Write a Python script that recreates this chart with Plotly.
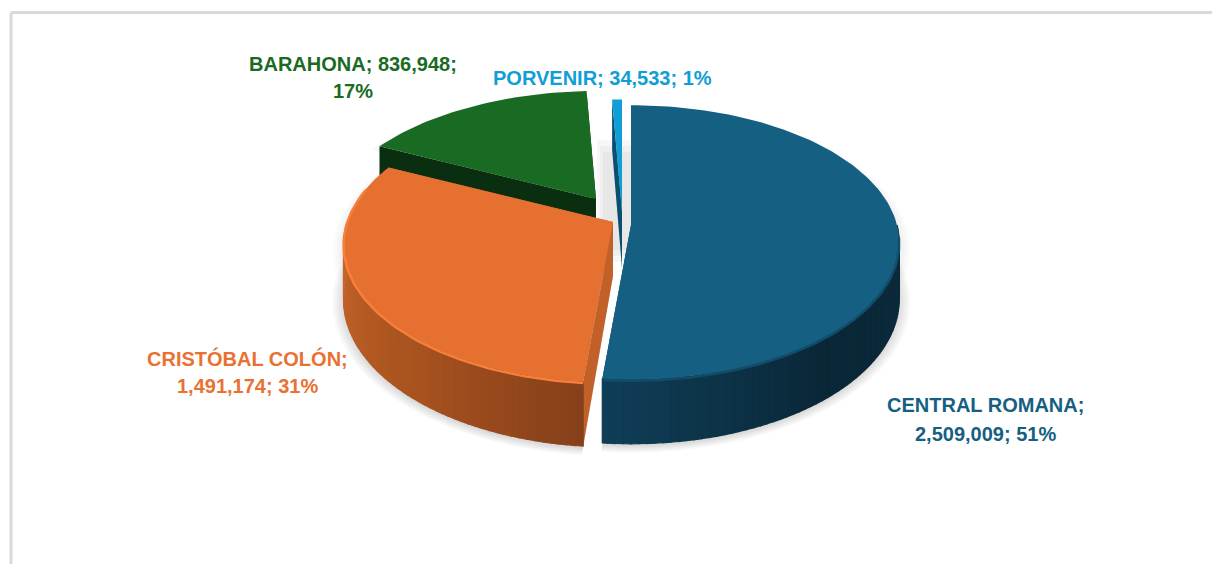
import math
import plotly.graph_objects as go

# ---- data ----
categories = ["CENTRAL ROMANA", "CRISTÓBAL COLÓN", "BARAHONA", "PORVENIR"]
values = [2509009, 1491174, 836948, 34533]
percents = ["51%", "31%", "17%", "1%"]

# ---- style ----
top_colors = ["#156082", "#E6702F", "#196B24", "#0F9ED5"]
text_colors = ["#156082", "#E97132", "#196B24", "#0F9ED5"]
face_colors = ["#0C3348", "#C2602A", "#0A2E10", "#0A4F70"]
wall_stops = [
    [(100, "#0B2A3B"), (140, "#0A2737"), (185, "#0F3E57")],
    [(185, "#85401A"), (220, "#A8521F"), (265, "#C6652B")],
    [(295, "#0A2E10"), (360, "#0A2E10")],
    [(357, "#0A4F70"), (360, "#0A4F70")],
]
rim_colors = ["#114D69", "#F77F3B", None, None]
apexes = [(631, 225), (613, 222), (596, 199), (622, 212)]
scales = [1.0, 1.0, 1.0, 0.94]
perspective = [0.127, 0.16, 0.25, 0.127]
depths = [56, 54, 56, 56]
draw_order = [3, 2, 1, 0]
RX, RY = 266, 135
FONT = "Liberation Sans"
FS = 20
label_lines = [
    [(985, 405, f"{categories[0]};"), (985, 434, f"{values[0]:,}; {percents[0]}")],
    [(247, 358, f"{categories[1]};"), (247, 386, f"{values[1]:,}; {percents[1]}")],
    [(353, 64, f"{categories[2]}; {values[2]:,};"), (353, 91, percents[2])],
    [(602, 78, f"{categories[3]}; {values[3]:,}; {percents[3]}")],
]

total = sum(values)
edges = [0.0]
for v in values:
    edges.append(edges[-1] + v / total * 360)


def proj(i, deg, depth=0.0, grow=1.0):
    ax, ay = apexes[i]
    t = math.radians(deg)
    s = scales[i] * grow / (1 + perspective[i] * math.cos(t))
    return ax + RX * math.sin(t) * s, ay - RY * math.cos(t) * s + depth * s / scales[i] / grow


def arc(i, a, b, depth=0.0, grow=1.0):
    n = max(2, int(abs(b - a) / 1.5) + 1)
    pts = [proj(i, a + (b - a) * k / (n - 1), depth, grow) for k in range(n)]
    return [p[0] for p in pts], [p[1] for p in pts]


def mix(stops, deg):
    def rgb(h):
        return [int(h[j:j + 2], 16) for j in (1, 3, 5)]
    if deg <= stops[0][0]:
        return stops[0][1]
    for (a, ca), (b, cb) in zip(stops, stops[1:]):
        if deg <= b:
            f = (deg - a) / (b - a)
            c = [round(x + (y - x) * f) for x, y in zip(rgb(ca), rgb(cb))]
            return "#%02X%02X%02X" % tuple(c)
    return stops[-1][1]


fig = go.Figure()


def poly(xs, ys, color, lw=0.0):
    fig.add_trace(go.Scatter(x=xs, y=ys, mode="lines", fill="toself", fillcolor=color,
                             line=dict(color=color, width=lw), hoverinfo="skip", showlegend=False))


# soft shadow under the pie
for i in draw_order:
    a, b = edges[i], edges[i + 1]
    ax, ay = apexes[i]
    dp = depths[i]
    for e in (1, 3, 5, 7, 9, 11):
        g = 1 + e / 260
        xs, ys = arc(i, a, b, dp + 2, g)
        poly([ax] + xs + [ax], [ay + dp] + ys + [ay + dp], "rgba(0,0,0,0.022)")
        xs, ys = arc(i, a, b, 6, g)
        poly([ax] + xs + [ax], [ay + 6] + ys + [ay + 6], "rgba(0,0,0,0.012)")

# soft shadow in the gap between the slices
for (x0, y0, x1, y1) in [(597, 140, 632, 262), (600, 146, 632, 256), (603, 152, 632, 250)]:
    fig.add_shape(type="rect", xref="x", yref="y", x0=x0, y0=y0, x1=x1, y1=y1, layer="below",
                  fillcolor="rgba(0,0,0,0.032)", line=dict(width=0))

# slices, back to front
for i in draw_order:
    a, b = edges[i], edges[i + 1]
    ax, ay = apexes[i]
    dp = depths[i]
    for deg in (a, b):
        x0, y0 = proj(i, deg)
        x1, y1 = proj(i, deg, dp)
        poly([ax, x0, x1, ax, ax], [ay, y0, y1, ay + dp, ay], face_colors[i])
    d = a
    step = 1.5
    while d < b - 1e-6:
        e = min(d + step, b)
        if math.cos(math.radians(d)) < -0.02 or math.cos(math.radians(e)) < -0.02:
            xt, yt = arc(i, d, e)
            xb, yb = arc(i, d, e, dp)
            poly(xt + xb[::-1] + [xt[0]], yt + yb[::-1] + [yt[0]], mix(wall_stops[i], (d + e) / 2), 1.2)
        d = e
    xs, ys = arc(i, a, b)
    poly([ax] + xs + [ax], [ay] + ys + [ay], top_colors[i])
    if rim_colors[i]:
        ra, rb = max(a, 95), min(b, 285)
        xs, ys = arc(i, ra, rb, 1)
        fig.add_trace(go.Scatter(x=xs, y=ys, mode="lines", line=dict(color=rim_colors[i], width=2.5),
                                 hoverinfo="skip", showlegend=False))

# labels
for i, lines in enumerate(label_lines):
    for x, y, text in lines:
        fig.add_annotation(x=x, y=y, xref="x", yref="y", text=f"<b>{text}</b>", showarrow=False,
                           font=dict(family=FONT, size=FS, color=text_colors[i]),
                           xanchor="center", yanchor="middle")

# frame
frame = dict(type="line", xref="x", yref="y", line=dict(color="#D9D9D9", width=3))
fig.add_shape(x0=11, y0=12.5, x1=1220, y1=12.5, **frame)
fig.add_shape(x0=11, y0=12.5, x1=11, y1=564, **frame)

# the page body has an 8 px margin, so the axes start at 8 to keep page pixels as data units
fig.update_layout(
    width=1212, height=556, margin=dict(l=0, r=0, t=0, b=0), autosize=False,
    paper_bgcolor="white", plot_bgcolor="rgba(0,0,0,0)", showlegend=False,
    xaxis=dict(range=[8, 1220], visible=False, fixedrange=True),
    yaxis=dict(range=[564, 8], visible=False, fixedrange=True),
)
fig.write_html("out.html", config=dict(displayModeBar=False))
